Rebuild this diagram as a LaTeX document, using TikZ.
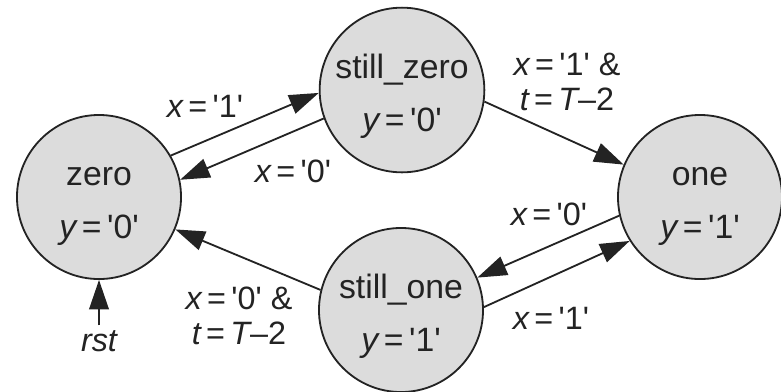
\documentclass[tikz,border=0pt]{standalone}
\usepackage{fontspec}
\setmainfont{Liberation Sans}
\usetikzlibrary{arrows.meta}
\definecolor{statefill}{RGB}{220,220,220}
\definecolor{ink}{RGB}{35,35,35}
\newcommand\qv[1]{\textquotesingle#1\textquotesingle}
\newcommand\tp{\rule{0pt}{26pt}}

\begin{document}
\begin{tikzpicture}[
    x=0.025cm, y=-0.025cm,
    >={Triangle[length=21pt,width=14pt]},
    state/.style={circle, draw=ink, fill=statefill, line width=1.3pt, minimum size=4.1cm, inner sep=0pt, align=center, text=ink, font=\fontsize{24}{38}\selectfont},
    cond/.style={align=center, text=ink, font=\fontsize{23}{25}\selectfont},
    trans/.style={->, draw=ink, line width=1.3pt}
  ]
    \useasboundingbox (0,0) rectangle (781,391);
    % states
    \node[state] (zero) at (99,197) {\tp zero\\{\itshape y}\,=\,\qv{0}};
    \node[state] (stzero) at (402,90) {\tp still\_zero\\{\itshape y}\,=\,\qv{0}};
    \node[state] (stone) at (401,310) {\tp still\_one\\{\itshape y}\,=\,\qv{1}};
    \node[state] (one) at (700,197) {\tp one\\{\itshape y}\,=\,\qv{1}};
    \node[cond] (rst) at (99,341) {\itshape rst};
    % transitions
    \draw[trans] (zero.30) -- (stzero.182);
    \draw[trans] (stzero.200) -- (zero.12);
    \draw[trans] (stzero.-8) -- (one.157);
    \draw[trans] (one.193) -- (stone.23);
    \draw[trans] (stone.2) -- (one.212);
    \draw[trans] (stone.166) -- (zero.-23);
    \draw[trans] (rst.north) -- (zero.south);
    % conditions
    \node[cond] (c1) at (205,106) {{\itshape x}\,=\,\qv{1}};
    \node[cond] (c2) at (293,171) {{\itshape x}\,=\,\qv{0}};
    \node[cond] (c3) at (567,82) {{\itshape x}\,=\,\qv{1} \&\\{\itshape t}\,=\,{\itshape T}\textendash2};
    \node[cond] (c4) at (549,214) {{\itshape x}\,=\,\qv{0}};
    \node[cond] (c5) at (551,318) {{\itshape x}\,=\,\qv{1}};
    \node[cond] (c6) at (239,316) {{\itshape x}\,=\,\qv{0} \&\\{\itshape t}\,=\,{\itshape T}\textendash2};
\end{tikzpicture}
\end{document}
